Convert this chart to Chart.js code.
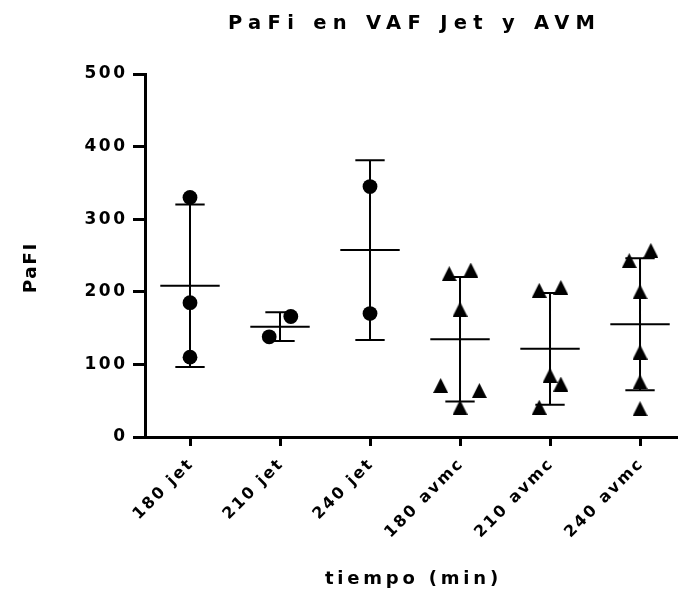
<!DOCTYPE html>
<html>
<head>
<meta charset="utf-8">
<title>PaFi en VAF Jet y AVM</title>
<script src="https://cdn.jsdelivr.net/npm/chart.js@4/dist/chart.umd.min.js"></script>
<style>
  html, body { margin: 0; padding: 0; background: #ffffff; }
  canvas { display: block; }
</style>
</head>
<body>
<canvas id="chart" width="678" height="592"></canvas>
<script>
// Groups on the x axis
const groups = ['180 jet', '210 jet', '240 jet', '180 avmc', '210 avmc', '240 avmc'];

// PaFI values per group
const jet180  = [330, 185, 110];
const jet210  = [138, 166];
const jet240  = [345, 170];
const avmc180 = [225, 230, 176, 71, 64, 41];
const avmc210 = [202, 206, 85, 73, 41];
const avmc240 = [243, 257, 200, 117, 76, 39];

// Y axis ticks
const yTicks = [0, 100, 200, 300, 400, 500];

// Sideways scatter of overlapping symbols inside each column (fraction of a column)
const spread = [
  [0, 0, 0],
  [-0.12, 0.12],
  [0, 0],
  [-0.12, 0.12, 0, -0.215, 0.215, 0],
  [-0.12, 0.12, 0, 0.12, -0.12],
  [-0.12, 0.12, 0, 0, 0, 0]
];

const groupValues = [jet180, jet210, jet240, avmc180, avmc210, avmc240];

const FONT = "'DejaVu Sans', 'Liberation Sans', Arial, sans-serif";
// Letter spacing (px) for each font size in use
const LETTER_SPACING = { '19.5': 6.3, '18': 3.8, '18.5': 1.5, '17': 2.5, '16': 2.3 };
const MEAN_HALF = 0.33;      // half width of the mean line
const CAP_HALF = 0.163;      // half width of the SD caps
const Y_TITLE_SHIFT = 13;    // axis title sits a little below the axis middle

function mean(a) { return a.reduce((s, v) => s + v, 0) / a.length; }
function sd(a) {
  const m = mean(a);
  return Math.sqrt(a.reduce((s, v) => s + (v - m) * (v - m), 0) / (a.length - 1));
}

// Filled triangle symbol, centred on its bounding box
function triangleMarker(w, h) {
  const c = document.createElement('canvas');
  c.width = w; c.height = h;
  const g = c.getContext('2d');
  g.fillStyle = '#000';
  g.beginPath();
  g.moveTo(w / 2, 0);
  g.lineTo(w, h);
  g.lineTo(0, h);
  g.closePath();
  g.fill();
  return c;
}

function pointsFor(indices) {
  const out = [];
  indices.forEach(i => {
    groupValues[i].forEach((v, k) => out.push({ x: i + spread[i][k], y: v }));
  });
  return out;
}

const meanSegments = [];
const sdSegments = [];
groupValues.forEach((vals, i) => {
  const m = mean(vals), s = sd(vals);
  meanSegments.push({ x: i - MEAN_HALF, y: m }, { x: i + MEAN_HALF, y: m }, { x: i, y: null });
  sdSegments.push(
    { x: i, y: m - s }, { x: i, y: m + s }, { x: i, y: null },
    { x: i - CAP_HALF, y: m + s }, { x: i + CAP_HALF, y: m + s }, { x: i, y: null },
    { x: i - CAP_HALF, y: m - s }, { x: i + CAP_HALF, y: m - s }, { x: i, y: null }
  );
});

const canvas = document.getElementById('chart');
const ctx = canvas.getContext('2d');
const proto = CanvasRenderingContext2D.prototype;

// Spaced-out lettering, keyed on the current font size
function spacingFor(c) {
  const m = /(\d+(?:\.\d+)?)px/.exec(c.font);
  const s = m ? LETTER_SPACING[String(parseFloat(m[1]))] : 0;
  return s || 0;
}
ctx.fillText = function (t, x, y, mw) {
  const s = spacingFor(this);
  if ('letterSpacing' in this) this.letterSpacing = s + 'px';
  // spacing is also added after the last glyph; keep the ink on its anchor
  let dx = 0;
  if (this.textAlign === 'center') dx = s / 2;
  else if (this.textAlign === 'right' || this.textAlign === 'end') dx = s;
  return mw === undefined
    ? proto.fillText.call(this, t, x + dx, y)
    : proto.fillText.call(this, t, x + dx, y, mw);
};
ctx.measureText = function (t) {
  if ('letterSpacing' in this) this.letterSpacing = spacingFor(this) + 'px';
  return proto.measureText.call(this, t);
};

const lineStyle = {
  showLine: true,
  pointRadius: 0,
  pointHoverRadius: 0,
  borderColor: '#000',
  borderWidth: 2,
  borderCapStyle: 'butt',
  spanGaps: false,
  fill: false
};

const shiftYTitle = {
  id: 'shiftYTitle',
  afterLayout(chart) {
    const s = chart.scales.y;
    if (!s || s.__titleShifted) return;
    const draw = s.drawTitle;
    s.drawTitle = function () {
      this.ctx.save();
      this.ctx.translate(0, Y_TITLE_SHIFT);
      draw.call(this);
      this.ctx.restore();
    };
    s.__titleShifted = true;
  }
};

new Chart(canvas, {
  type: 'scatter',
  data: {
    datasets: [
      Object.assign({ label: 'media', data: meanSegments }, lineStyle),
      Object.assign({ label: 'DE', data: sdSegments }, lineStyle),
      {
        label: 'jet',
        data: pointsFor([0, 1, 2]),
        pointStyle: 'circle',
        pointRadius: 7.4,
        pointHoverRadius: 7.4,
        backgroundColor: '#000',
        borderWidth: 0
      },
      {
        label: 'avmc',
        data: pointsFor([3, 4, 5]),
        pointStyle: triangleMarker(15, 15),
        pointRadius: 7.5,
        pointHoverRadius: 7.5,
        backgroundColor: '#000',
        borderWidth: 0
      }
    ]
  },
  plugins: [shiftYTitle],
  options: {
    responsive: false,
    devicePixelRatio: 1,
    animation: false,
    events: [],
    layout: { padding: 0, autoPadding: false },
    plugins: {
      legend: { display: false },
      tooltip: { enabled: false },
      title: {
        display: true,
        text: 'PaFi en VAF Jet y AVM',
        fullSize: false,
        color: '#000',
        font: { family: FONT, size: 19.5, weight: 'bold' },
        padding: { top: 12, bottom: 38.6 }
      }
    },
    scales: {
      x: {
        type: 'linear',
        bounds: 'data',
        min: -0.5,
        max: 5.422,
        afterBuildTicks: s => { s.ticks = groups.map((_, i) => ({ value: i })); },
        afterFit: s => { s.height = 155; s.paddingLeft = 0; s.paddingRight = 0; },
        grid: {
          display: true,
          drawOnChartArea: false,
          drawTicks: true,
          tickLength: 9,
          tickWidth: 3,
          tickColor: '#000'
        },
        border: { display: true, color: '#000', width: 3 },
        ticks: {
          autoSkip: false,
          minRotation: 45,
          maxRotation: 45,
          padding: 10,
          color: '#000',
          font: { family: FONT, size: 16, weight: 'bold' },
          callback: v => groups[v] !== undefined ? groups[v] : ''
        },
        title: {
          display: true,
          text: 'tiempo (min)',
          color: '#000',
          font: { family: FONT, size: 18, weight: 'bold' },
          padding: { top: 0, bottom: 2 }
        }
      },
      y: {
        min: 0,
        max: 500,
        afterBuildTicks: s => { s.ticks = yTicks.map(v => ({ value: v })); },
        afterFit: s => { s.width = 145; s.paddingTop = 0; s.paddingBottom = 0; },
        grid: {
          display: true,
          drawOnChartArea: false,
          drawTicks: true,
          tickLength: 12,
          tickWidth: 3,
          tickColor: '#000'
        },
        border: { display: true, color: '#000', width: 3 },
        ticks: {
          padding: 8,
          color: '#000',
          font: { family: FONT, size: 17, weight: 'bold' }
        },
        title: {
          display: true,
          text: 'PaFI',
          color: '#000',
          font: { family: FONT, size: 18.5, weight: 'bold' },
          padding: { top: 20, bottom: 0 }
        }
      }
    }
  }
});
</script>
</body>
</html>
